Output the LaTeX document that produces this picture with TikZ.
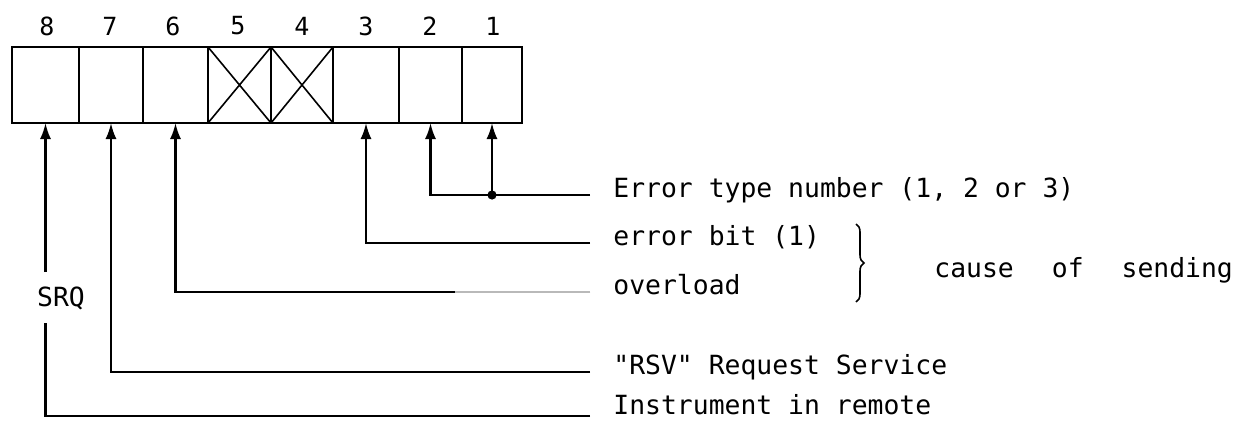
\documentclass[tikz,border=0pt]{standalone}
\usepackage{fontspec}
\setmonofont{DejaVu Sans Mono}
\usetikzlibrary{arrows.meta,decorations.pathreplacing}
\begin{document}
\begin{tikzpicture}[x=0.5pt,y=-0.5pt,
  cell/.style={draw,line width=1.1pt,inner sep=0pt,outer sep=0pt,minimum height=38pt},
  digit/.style={font=\ttfamily\fontsize{12.5pt}{14pt}\selectfont,inner sep=0pt},
  lab/.style={font=\ttfamily\fontsize{13.2pt}{15pt}\selectfont,inner sep=0pt,anchor=base west},
  conn/.style={line width=1.1pt},
  arr/.style={line width=1.1pt,-{Latex[length=8pt,width=5.5pt]}},
  cross/.style={line width=0.8pt}]
\useasboundingbox (0,0) rectangle (1242,423);
% register cells
\node[cell,minimum width=33.5pt] (c8) at (45.5,85) {};
\node[cell,minimum width=32pt]   (c7) at (111,85) {};
\node[cell,minimum width=32.5pt] (c6) at (175.5,85) {};
\node[cell,minimum width=31.5pt] (c5) at (239.5,85) {};
\node[cell,minimum width=31pt]   (c4) at (302,85) {};
\node[cell,minimum width=33pt]   (c3) at (366,85) {};
\node[cell,minimum width=31.5pt] (c2) at (430.5,85) {};
\node[cell,minimum width=30pt]   (c1) at (492,85) {};
\draw[cross] (c5.north west) -- (c5.south east) (c5.south west) -- (c5.north east);
\draw[cross] (c4.north west) -- (c4.south east) (c4.south west) -- (c4.north east);
% bit numbers
\node[digit] (d8) at (47,26) {8};
\node[digit] (d7) at (110,26) {7};
\node[digit] (d6) at (173,26) {6};
\node[digit] (d5) at (238,26) {5};
\node[digit] (d4) at (302,26) {4};
\node[digit] (d3) at (366,26) {3};
\node[digit] (d2) at (430,26) {2};
\node[digit] (d1) at (493,26) {1};
% line ends
\coordinate (e1) at (590,195);
\coordinate (e2) at (590,243);
\coordinate (e3) at (590,292);
\coordinate (e4) at (590,372);
\coordinate (e5) at (590,416);
% labels
\node[lab] (l1) at (613,197) {Error type number (1, 2 or 3)};
\node[lab] (l2) at (613,245) {error bit (1)};
\node[lab] (l3) at (613,294) {overload};
\node[lab] (l4) at (613,374) {"RSV" Request Service};
\node[lab] (l5) at (613,414) {Instrument in remote};
\node[lab] (cs) at (934,277) {cause\hspace{19pt}of\hspace{19pt}sending};
\draw[line width=0.8pt,decorate,decoration={brace,amplitude=4pt}] (856,224) -- (856,302);
% SRQ label
\node[lab,anchor=center] (srq) at (61,298) {SRQ};
% connectors
\draw[arr] (e1) -| (c2.south);
\coordinate (j1) at (c1.south |- e1);
\draw[arr] (j1) -- (c1.south);
\fill (j1) circle (2.3pt);
\draw[arr] (e2) -| (c3.south);
\draw[arr] (e3) -| (c6.south);
\draw[line width=1.3pt,gray!55] (455,292) -- (e3);
\draw[arr] (e4) -| (c7.south);
\coordinate (s1) at (c8.south |- 0,272);
\coordinate (s2) at (c8.south |- 0,323);
\draw[arr] (s1) -- (c8.south);
\draw[conn] (e5) -| (s2);
\end{tikzpicture}
\end{document}
